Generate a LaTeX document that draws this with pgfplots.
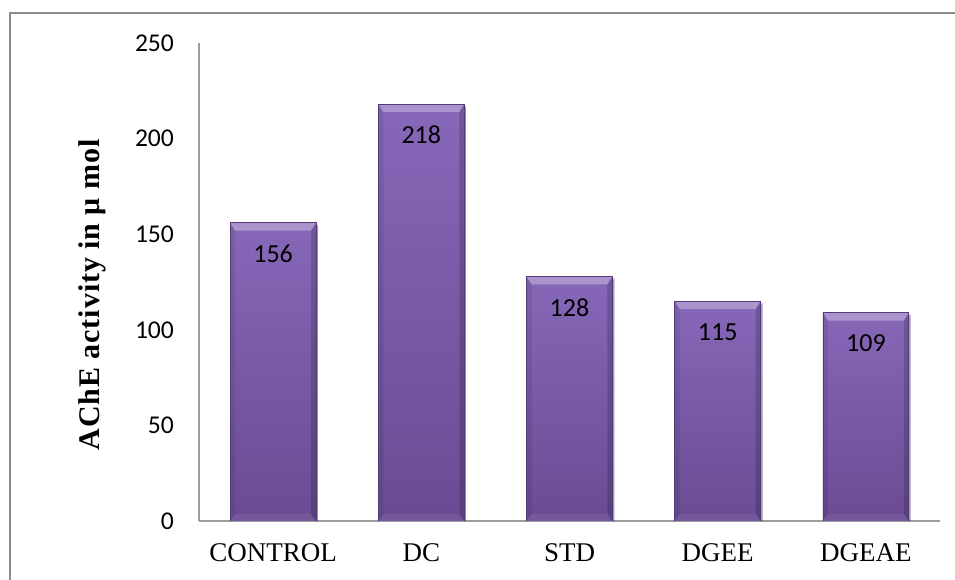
\documentclass[border=0pt]{standalone}
\usepackage{fontspec}
\setmainfont{Liberation Serif}
\newfontfamily\calibri{Carlito}
\newfontfamily\labelfont[LetterSpace=3]{Liberation Serif}
\usepackage{pgfplots}
\pgfplotsset{compat=1.18}
\usetikzlibrary{calc,shadows}

\definecolor{bartop}{HTML}{8767B8}
\definecolor{barbot}{HTML}{6A4B93}
\definecolor{baredge}{HTML}{553A7A}
\definecolor{axisgray}{HTML}{9C9C9C}
\definecolor{framegray}{HTML}{8C8C8C}

% one bevel facet: colour, opacity, four corners
\newcommand\bevelfacet[6]{%
  \begin{pgfscope}
    \pgfsetfillcolor{#1}\pgfsetfillopacity{#2}%
    \pgfpathmoveto{#3}\pgfpathlineto{#4}\pgfpathlineto{#5}\pgfpathlineto{#6}%
    \pgfpathclose\pgfusepath{fill}%
  \end{pgfscope}}
% bevelled face of a bar: light top rim, darker side rims, faint light foot
\newcommand\barbevel{%
  \pgfpointanchor{path picture bounding box}{south west}\pgfgetlastxy{\bx}{\by}%
  \pgfpointanchor{path picture bounding box}{north east}\pgfgetlastxy{\tx}{\ty}%
  \def\bw{4pt}\def\sw{2.5pt}\def\fw{3.5pt}%
  \bevelfacet{white}{0.30}{\pgfpoint{\bx}{\ty}}{\pgfpoint{\tx}{\ty}}{\pgfpoint{\tx-\sw}{\ty-\bw}}{\pgfpoint{\bx+\sw}{\ty-\bw}}%
  \bevelfacet{black}{0.16}{\pgfpoint{\tx}{\ty}}{\pgfpoint{\tx-\sw}{\ty-\bw}}{\pgfpoint{\tx-\sw}{\by+\fw}}{\pgfpoint{\tx}{\by}}%
  \bevelfacet{black}{0.08}{\pgfpoint{\bx}{\ty}}{\pgfpoint{\bx+\sw}{\ty-\bw}}{\pgfpoint{\bx+\sw}{\by+\fw}}{\pgfpoint{\bx}{\by}}%
  \bevelfacet{white}{0.07}{\pgfpoint{\bx}{\by}}{\pgfpoint{\bx+\sw}{\by+\fw}}{\pgfpoint{\tx-\sw}{\by+\fw}}{\pgfpoint{\tx}{\by}}%
}
\tikzset{bevel/.style={path picture={\barbevel}}}
\pgfplotsset{purplebar/.style={draw=baredge, line width=0.4pt, top color=bartop, bottom color=barbot,
  bevel, bar shift=0pt,
  drop shadow={shadow xshift=0.8pt, shadow yshift=-1.2pt, fill=black, opacity=0.18}}}

\begin{document}
\begin{tikzpicture}
\begin{axis}[
  scale only axis,
  width=370.5pt, height=239pt,
  xmin=-0.5, xmax=4.5,
  ymin=0, ymax=250,
  ytick={0,50,100,150,200,250},
  xtick={0,1,2,3,4},
  xticklabels={CONTROL,DC,STD,DGEE,DGEAE},
  axis x line*=bottom,
  axis y line*=left,
  axis line style={draw=axisgray, line width=0.8pt, -},
  major tick length=0pt,
  /pgf/number format/assume math mode=true,
  yticklabel style={font=\calibri\fontsize{12.8}{15}\selectfont, xshift=-9pt},
  xticklabel style={font=\fontsize{13.5}{16}\selectfont, yshift=-8pt},
  ylabel={\labelfont\bfseries AChE activity in μ mol},
  ylabel style={font=\fontsize{15}{18}\selectfont, at={(axis description cs:-0.1444,0.473)}, anchor=center, rotate=0},
  ybar,
  bar width=0.58,
  nodes near coords,
  every node near coord/.append style={font=\calibri\fontsize{13}{15}\selectfont, anchor=center, yshift=-15.5pt, text=black},
]
% one plot per group, so that each bar gets its own shading and bevel
\addplot[purplebar] coordinates {(0,156)};
\addplot[purplebar] coordinates {(1,218)};
\addplot[purplebar] coordinates {(2,128)};
\addplot[purplebar] coordinates {(3,115)};
\addplot[purplebar] coordinates {(4,109)};
\coordinate (SW) at (rel axis cs:0,0);
\coordinate (NE) at (rel axis cs:1,1);
\end{axis}
\path[use as bounding box] ($(SW)+(-99.5pt,-29.5pt)$) rectangle ($(NE)+(7.5pt,21.5pt)$);
\draw[framegray, line width=0.8pt] ($(SW)+(-94.5pt,-31pt)$) |- ($(NE)+(9pt,15pt)$);
\end{tikzpicture}
\end{document}
